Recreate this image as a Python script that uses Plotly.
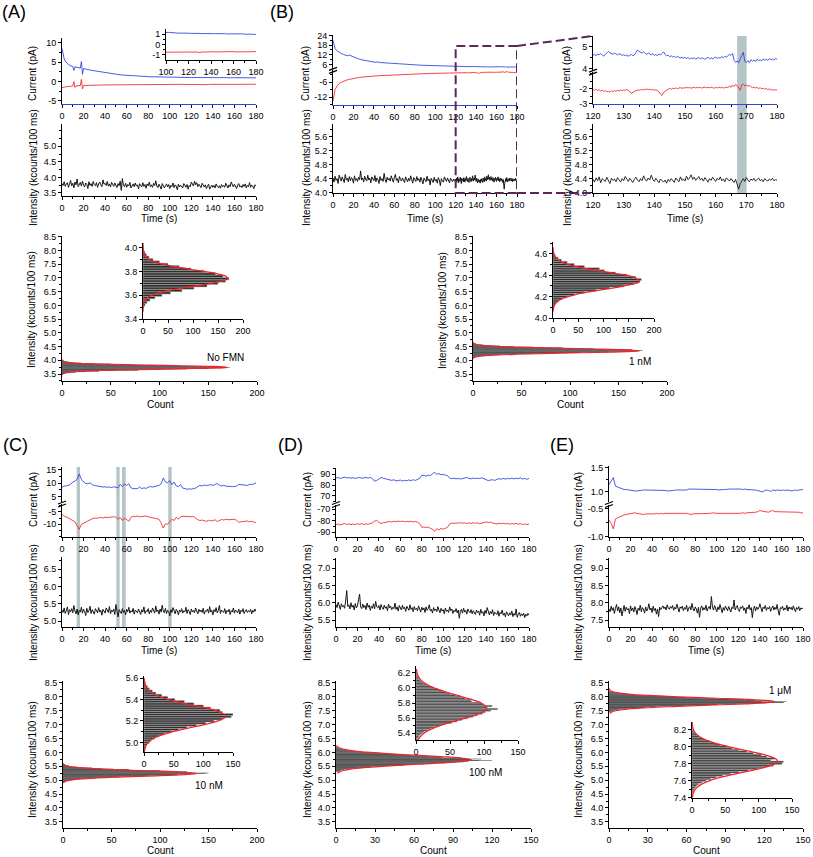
import plotly.graph_objects as go

W, H = 813, 857
FONT = "Liberation Sans, Arial, Helvetica, sans-serif"
BLUE = "#2b3fe0"
RED = "#f2242a"
INK = "#161616"
AXIS_BLUE = "#3347d0"
BAND = "#a8babd"
PURPLE = "#5e2557"
BIN_W = 0.02

# ---------------- data: time traces ----------------
A_T = list(range(40)) + list(range(40, 181, 2))
A_BLUE = [8.6, 6.9, 5.9, 5.3, 4.9, 4.6, 4.4, 4.25, 4.1, 4.0, 3.9, 2.9, 3.9, 3.75, 3.7, 3.6, 3.55, 3.5, 5.2, 1.9,
          3.4, 3.3, 3.25, 3.2, 3.1, 3.05, 3.0, 2.95, 2.9, 2.85, 2.8, 2.75, 2.7, 2.62, 2.58, 2.52, 2.48, 2.45, 2.4, 2.35,
          2.30, 2.20, 2.11, 2.03, 1.96, 1.89, 1.83, 1.77, 1.72, 1.67,
          1.62, 1.58, 1.54, 1.50, 1.46, 1.43, 1.40, 1.37, 1.34, 1.31,
          1.29, 1.27, 1.25, 1.23, 1.21, 1.19, 1.17, 1.16, 1.15, 1.14,
          1.14, 1.16, 1.12, 1.10, 1.11, 1.09, 1.10, 1.08, 1.09, 1.07,
          1.08, 1.06, 1.07, 1.05, 1.08, 1.06, 1.04, 1.05, 1.03, 1.06,
          1.07, 1.04, 1.03, 1.05, 1.02, 1.03, 1.04, 1.01, 1.02, 1.00,
          1.03, 1.01, 0.99, 1.00, 1.02, 0.98, 1.00, 0.97, 0.99, 0.96,
          0.98]
A_RED = [-1.55, -1.45, -1.40, -1.35, -1.30, -1.28, -1.25, -1.22, -1.20, -1.18, -1.15, 0.0, -1.5, -1.10, -1.08,
         -1.06, -1.05, -1.03, 0.6, -1.9,
         -1.00, -0.98, -0.97, -0.96, -0.95, -0.94, -0.93, -0.93, -0.92, -0.91,
         -0.90, -0.90, -0.89, -0.88, -0.88, -0.87, -0.87, -0.86, -0.86, -0.85,
         -0.85, -0.84, -0.84, -0.83, -0.83, -0.82, -0.82, -0.81, -0.81, -0.80,
         -0.80, -0.79, -0.79, -0.78, -0.78, -0.78, -0.77, -0.77, -0.77, -0.76,
         -0.76, -0.76, -0.75, -0.75, -0.75, -0.74, -0.74, -0.74, -0.73, -0.73,
         -0.73, -0.72, -0.74, -0.71, -0.73, -0.72, -0.70, -0.73, -0.71, -0.72,
         -0.70, -0.71, -0.73, -0.70, -0.72, -0.78, -0.71, -0.72, -0.70, -0.71,
         -0.72, -0.69, -0.71, -0.70, -0.72, -0.68, -0.70, -0.71, -0.69, -0.70,
         -0.68, -0.71, -0.69, -0.70, -0.67, -0.69, -0.70, -0.68, -0.69, -0.67,
         -0.68]

T1 = list(range(181))
T2 = list(range(0, 181, 2))

A_INT = [3.80, 3.74, 3.86, 3.71, 3.79, 3.83, 3.68, 3.77, 3.90, 3.73, 3.81, 3.66, 3.85, 3.76, 3.95, 3.70, 3.79, 3.84, 3.72, 3.88,
         3.75, 3.69, 3.82, 3.78, 3.64, 3.86, 3.74, 3.80, 3.71, 3.87, 3.77, 3.73, 3.83, 3.68, 3.79, 3.85, 3.76, 3.70, 3.92, 3.78,
         3.81, 3.74, 3.87, 3.72, 3.79, 3.69, 3.84, 3.76, 3.71, 3.82, 3.75, 3.67, 3.80, 3.73, 3.88, 3.58, 3.96, 3.74, 3.70, 3.81,
         3.68, 3.77, 3.73, 3.84, 3.66, 3.75, 3.79, 3.70, 3.82, 3.72, 3.76, 3.63, 3.80, 3.74, 3.69, 3.83, 3.71, 3.77, 3.65, 3.79,
         3.73, 3.85, 3.70, 3.76, 3.68, 3.81, 3.74, 3.89, 3.72, 3.67, 3.78, 3.71, 3.62, 3.80, 3.75, 3.66, 3.73, 3.79, 3.69, 3.77,
         3.64, 3.74, 3.70, 3.82, 3.67, 3.76, 3.72, 3.60, 3.78, 3.69, 3.75, 3.71, 3.66, 3.80, 3.73, 3.68, 3.77, 3.62, 3.74, 3.70,
         3.85, 3.79, 3.72, 3.88, 3.76, 3.83, 3.70, 3.78, 3.74, 3.67, 3.81, 3.73, 3.69, 3.76, 3.64, 3.72, 3.78, 3.62, 3.70, 3.75,
         3.68, 3.74, 3.66, 3.79, 3.71, 3.67, 3.73, 3.65, 3.77, 3.70, 3.74, 3.68, 3.81, 3.72, 3.66, 3.76, 3.70, 3.85, 3.73, 3.69,
         3.78, 3.71, 3.64, 3.75, 3.80, 3.69, 3.73, 3.67, 3.77, 3.71, 3.79, 3.66, 3.74, 3.70, 3.83, 3.68, 3.75, 3.72, 3.64, 3.76,
         3.73]

B_TL = list(range(0, 120, 2))
B_TZ = [120 + 0.5 * i for i in range(121)]
B_TIL = list(range(120))
B_BLUE_L = [21.0, 16.0, 14.5, 13.5, 12.8, 12.3, 11.8, 11.4, 11.8, 11.2,
            10.5, 10.0, 9.6, 9.2, 8.9, 8.6, 8.3, 8.1, 7.9, 7.7,
            7.5, 7.4, 7.6, 7.2, 7.1, 6.9, 6.8, 6.7, 6.6, 6.5,
            6.4, 6.3, 6.2, 6.1, 6.0, 5.95, 5.9, 5.85, 5.8, 5.75,
            5.7, 5.65, 5.6, 5.55, 5.5, 5.45, 5.4, 5.35, 5.3, 5.25,
            5.2, 5.15, 5.1, 5.05, 5.0, 4.95, 4.9, 4.85, 4.8, 4.72]
B_RED_L = [-13.5, -9.0, -7.5, -6.5, -6.0, -5.6, -5.3, -5.0, -4.8, -4.6,
           -4.4, -4.3, -4.2, -4.0, -3.9, -3.8, -3.7, -3.6, -3.55, -3.5,
           -3.45, -3.4, -3.35, -3.3, -3.25, -3.2, -3.15, -3.1, -3.05, -3.0,
           -2.95, -2.9, -2.88, -2.85, -2.8, -2.78, -2.75, -2.7, -2.68, -2.65,
           -2.6, -2.58, -2.55, -2.5, -2.48, -2.45, -2.42, -2.4, -2.38, -2.35,
           -2.32, -2.3, -2.28, -2.25, -2.22, -2.2, -2.18, -2.15, -2.12, -2.1]
B_BLUE_Z = [4.62, 4.66, 4.60, 4.68, 4.64, 4.70, 4.63, 4.58, 4.66, 4.72,
            4.80, 4.74, 4.70, 4.66, 4.72, 4.68, 4.64, 4.70, 4.67, 4.62,
            4.65, 4.60, 4.63, 4.58, 4.62, 4.66, 4.60, 4.64, 4.75, 4.86,
            4.80, 4.76, 4.72, 4.78, 4.70, 4.66, 4.72, 4.68, 4.64, 4.70,
            4.62, 4.66, 4.60, 4.68, 4.64, 4.70, 4.78, 4.66, 4.60, 4.63,
            4.56, 4.60, 4.54, 4.58, 4.52, 4.57, 4.55, 4.50, 4.54, 4.49,
            4.53, 4.48, 4.52, 4.46, 4.50, 4.47, 4.51, 4.45, 4.49, 4.52,
            4.46, 4.50, 4.48, 4.44, 4.49, 4.53, 4.47, 4.51, 4.46, 4.50,
            4.54, 4.48, 4.52, 4.49, 4.56, 4.51, 4.58, 4.54, 4.60, 4.66,
            4.62, 4.70, 4.40, 4.30, 4.36, 4.28, 4.45, 4.62, 4.76, 4.35,
            4.30, 4.38, 4.28, 4.42, 4.36, 4.40, 4.34, 4.44, 4.38, 4.42,
            4.36, 4.46, 4.40, 4.44, 4.39, 4.47, 4.42, 4.45, 4.40, 4.48,
            4.44]
B_RED_Z = [-2.05, -2.10, -2.02, -2.12, -2.06, -2.15, -2.08, -2.18, -2.11, -2.20,
           -2.16, -2.22, -2.14, -2.19, -2.12, -2.17, -2.10, -2.15, -2.08, -2.13,
           -2.06, -2.11, -2.04, -2.09, -2.18, -2.30, -2.22, -2.16, -2.12, -2.08,
           -2.10, -2.05, -2.09, -2.03, -2.07, -2.00, -2.06, -2.02, -2.08, -2.04,
           -2.10, -2.06, -2.14, -2.20, -2.35, -2.45, -2.25, -2.15, -2.08, -2.02,
           -1.98, -2.03, -1.96, -2.00, -1.94, -1.99, -1.95, -1.92, -1.97, -1.93,
           -1.95, -1.90, -1.94, -1.91, -1.96, -1.92, -1.89, -1.94, -1.90, -1.93,
           -1.91, -1.95, -1.92, -1.88, -1.93, -1.90, -1.94, -1.89, -1.92, -1.96,
           -1.91, -1.94, -1.89, -1.93, -1.90, -1.95, -1.91, -1.88, -1.93, -1.80,
           -1.90, -1.75, -1.85, -1.70, -1.78, -1.95, -2.10, -1.72, -1.68, -1.80,
           -1.75, -1.82, -1.78, -1.86, -1.92, -1.88, -1.95, -1.90, -1.98, -1.93,
           -2.00, -1.96, -2.03, -1.98, -2.05, -2.01, -2.08, -2.04, -2.10, -2.06,
           -2.08]
B_INT_L = [4.42, 4.30, 4.47, 4.35, 4.40, 4.26, 4.50, 4.37, 4.33, 4.45,
           4.38, 4.29, 4.52, 4.36, 4.41, 4.31, 4.46, 4.34, 4.43, 4.39,
           4.27, 4.48, 4.35, 4.40, 4.32, 4.44, 4.37, 4.62, 4.36, 4.42,
           4.30, 4.47, 4.38, 4.33, 4.50, 4.36, 4.41, 4.28, 4.45, 4.39,
           4.34, 4.49, 4.31, 4.42, 4.37, 4.26, 4.46, 4.35, 4.40, 4.32,
           4.55, 4.38, 4.29, 4.44, 4.36, 4.41, 4.33, 4.48, 4.37, 4.30,
           4.43, 4.52, 4.35, 4.40, 4.28, 4.46, 4.38, 4.33, 4.42, 4.36,
           4.29, 4.45, 4.37, 4.31, 4.41, 4.34, 4.48, 4.36, 4.27, 4.43,
           4.39, 4.32, 4.46, 4.35, 4.40, 4.30, 4.44, 4.37, 4.25, 4.42,
           4.36, 4.31, 4.47, 4.34, 4.39, 4.22, 4.41, 4.35, 4.29, 4.44,
           4.33, 4.38, 4.27, 4.43, 4.36, 4.20, 4.40, 4.34, 4.30, 4.45,
           4.37, 4.32, 4.42, 4.35, 4.28, 4.41, 4.36, 4.31, 4.39, 4.34]
B_INT_Z = [4.38, 4.30, 4.42, 4.34, 4.45, 4.28, 4.40, 4.36, 4.32, 4.44,
           4.37, 4.26, 4.41, 4.35, 4.39, 4.31, 4.43, 4.36, 4.30, 4.40,
           4.34, 4.46, 4.37, 4.32, 4.41, 4.35, 4.29, 4.38, 4.44, 4.36,
           4.31, 4.40, 4.34, 4.48, 4.37, 4.33, 4.42, 4.36, 4.50, 4.38,
           4.32, 4.41, 4.35, 4.28, 4.39, 4.33, 4.30, 4.36, 4.27, 4.38,
           4.32, 4.40, 4.34, 4.29, 4.42, 4.36, 4.31, 4.45, 4.35, 4.39,
           4.33, 4.47, 4.37, 4.42, 4.51, 4.38, 4.44, 4.35, 4.40, 4.46,
           4.36, 4.41, 4.33, 4.43, 4.37, 4.30, 4.40, 4.35, 4.44, 4.38,
           4.32, 4.41, 4.36, 4.45, 4.34, 4.39, 4.31, 4.42, 4.37, 4.33,
           4.40, 4.35, 4.29, 4.38, 4.22, 4.10, 4.26, 4.34, 4.40, 4.32,
           4.43, 4.36, 4.31, 4.39, 4.35, 4.41, 4.33, 4.37, 4.42, 4.34,
           4.38, 4.31, 4.40, 4.36, 4.33, 4.39, 4.35, 4.41, 4.34, 4.37,
           4.36]
B_BAND = (167.0, 170.1)

C_BLUE = [8.5, 9.0, 9.0, 9.2, 9.6, 10.5, 10.8, 11.5, 13.5, 11.5,
          10.5, 10.0, 9.8, 10.2, 9.5, 9.2, 9.0, 8.8, 8.7, 8.6,
          8.7, 8.5, 8.6, 8.4, 8.7, 8.5, 8.3, 9.6, 8.8, 9.8,
          9.2, 9.8, 8.3, 8.0, 7.9, 8.0, 8.6, 8.0, 8.3, 8.1,
          8.5, 8.8, 8.6, 8.9, 9.0, 9.2, 9.8, 12.0, 10.5, 10.2,
          11.0, 9.5, 10.5, 9.0, 8.8, 9.5, 8.2, 8.0, 7.8, 7.9,
          7.8, 8.0, 8.2, 8.8, 9.2, 9.0, 9.4, 9.1, 9.3, 9.5,
          9.2, 9.6, 9.9, 9.3, 9.0, 9.2, 8.9, 8.8, 8.9, 8.7,
          8.8, 8.9, 9.6, 9.5, 9.3, 9.4, 9.2, 9.6, 9.5, 9.8,
          10.2]
C_RED = [-6.0, -6.8, -7.0, -7.5, -8.0, -8.5, -9.0, -10.5, -12.0, -10.0,
         -9.5, -9.0, -8.5, -8.0, -7.8, -7.5, -7.6, -7.4, -7.3, -7.5,
         -7.2, -7.3, -7.1, -7.2, -7.0, -7.2, -8.0, -7.3, -8.5, -7.5,
         -8.2, -8.8, -7.2, -6.8, -7.0, -6.7, -7.0, -6.8, -6.9, -6.7,
         -7.0, -7.2, -7.5, -7.8, -7.9, -8.0, -9.5, -11.5, -9.8, -10.0,
         -9.0, -8.0, -8.5, -7.2, -8.0, -7.0, -6.8, -6.9, -6.7, -6.8,
         -7.0, -6.9, -7.6, -8.2, -8.5, -8.3, -8.6, -8.8, -8.4, -8.7,
         -8.5, -8.2, -8.9, -8.4, -8.1, -8.3, -8.0, -8.2, -8.1, -8.3,
         -8.0, -8.4, -9.2, -9.0, -8.8, -8.9, -8.7, -9.0, -8.8, -9.1,
         -9.3]
C_INT = [5.32, 5.25, 5.38, 5.22, 5.30, 5.41, 5.19, 5.33, 5.27, 5.36,
         5.24, 5.45, 5.29, 5.21, 5.35, 5.18, 5.31, 5.26, 5.40, 5.23,
         5.34, 5.28, 5.16, 5.37, 5.25, 5.30, 5.43, 5.22, 5.33, 5.27,
         5.20, 5.36, 5.29, 5.24, 5.39, 5.26, 5.31, 5.17, 5.34, 5.28,
         5.23, 5.38, 5.30, 5.25, 5.42, 5.21, 5.32, 5.27, 5.35, 5.19,
         5.48, 5.26, 5.12, 5.33, 5.28, 5.22, 5.36, 5.25, 5.31, 5.18,
         5.34, 5.27, 5.40, 5.23, 5.30, 5.26, 5.37, 5.20, 5.32, 5.28,
         5.24, 5.35, 5.29, 5.19, 5.33, 5.26, 5.41, 5.22, 5.30, 5.27,
         5.36, 5.21, 5.31, 5.25, 5.38, 5.28, 5.23, 5.44, 5.27, 5.32,
         5.20, 5.35, 5.26, 5.46, 5.29, 5.24, 5.37, 5.22, 5.31, 5.28,
         5.15, 5.33, 5.25, 5.39, 5.27, 5.21, 5.34, 5.29, 5.18, 5.32,
         5.26, 5.36, 5.23, 5.30, 5.27, 5.40, 5.22, 5.33, 5.28, 5.19,
         5.35, 5.26, 5.31, 5.24, 5.38, 5.29, 5.21, 5.34, 5.27, 5.32,
         5.25, 5.37, 5.20, 5.30, 5.28, 5.35, 5.23, 5.42, 5.26, 5.31,
         5.18, 5.33, 5.27, 5.39, 5.24, 5.30, 5.45, 5.22, 5.32, 5.28,
         5.25, 5.36, 5.21, 5.31, 5.27, 5.34, 5.19, 5.30, 5.26, 5.38,
         5.23, 5.32, 5.28, 5.24, 5.35, 5.20, 5.31, 5.27, 5.36, 5.22,
         5.29, 5.33, 5.25, 5.30, 5.27, 5.34, 5.21, 5.31, 5.26, 5.35,
         5.28]
C_BANDS = [(13.6, 16.7), (50.4, 53.5), (55.7, 59.1), (98.6, 101.8)]

D_BLUE = [86.5, 86.8, 86.0, 86.5, 87.2, 86.4, 86.8, 86.2, 86.6, 86.0,
          86.5, 87.0, 86.2, 86.6, 86.8, 86.3, 86.9, 85.8, 83.5, 84.2,
          85.5, 86.8, 86.2, 85.8, 85.4, 84.6, 84.2, 84.8, 83.8, 84.0,
          84.5, 83.6, 84.2, 83.9, 84.6, 84.0, 84.8, 84.2, 85.0, 86.0,
          89.0, 88.5, 88.2, 89.0, 88.6, 90.2, 91.5, 89.8, 90.4, 89.2,
          89.8, 89.0, 88.4, 86.5, 85.8, 86.2, 85.6, 86.0, 85.4, 85.9,
          86.3, 86.8, 86.0, 85.6, 86.4, 85.8, 86.2, 85.9, 86.6, 85.5,
          84.6, 84.0, 84.5, 84.8, 84.2, 85.2, 85.8, 85.3, 85.9, 85.4,
          86.0, 85.6, 86.3, 85.5, 86.1, 85.8, 86.5, 85.4, 86.0, 85.2,
          86.0]
D_RED = [-83.5, -83.0, -83.8, -83.2, -82.6, -83.4, -82.8, -83.6, -83.0, -83.5,
         -82.8, -83.3, -82.7, -83.4, -82.9, -83.2, -82.6, -82.0, -80.5, -79.8,
         -81.5, -82.6, -82.0, -81.8, -81.2, -80.8, -81.3, -80.6, -81.0, -80.4,
         -80.9, -80.5, -81.2, -80.7, -81.1, -80.6, -81.3, -80.8, -81.5, -82.5,
         -86.0, -85.5, -86.2, -85.6, -86.8, -87.5, -89.5, -87.0, -88.2, -86.8,
         -87.6, -86.5, -85.8, -83.0, -82.2, -82.6, -82.0, -82.4, -81.8, -82.3,
         -82.0, -82.6, -82.1, -82.5, -81.9, -82.4, -82.0, -82.7, -82.2, -81.6,
         -81.2, -81.8, -81.4, -82.2, -82.6, -83.0, -82.4, -82.8, -82.3, -82.9,
         -82.5, -83.1, -82.6, -83.0, -82.4, -83.2, -82.7, -83.5, -82.9, -83.6,
         -83.1]
D_INT = [5.95, 5.86, 6.02, 5.90, 5.81, 5.97, 5.88, 5.92, 5.84, 6.05,
         6.35, 5.89, 5.94, 5.82, 6.00, 5.87, 5.93, 5.79, 5.98, 5.85,
         5.91, 6.08, 6.25, 5.88, 5.83, 5.96, 5.86, 5.92, 5.80, 5.99,
         5.87, 5.93, 5.78, 5.90, 5.84, 5.97, 5.82, 6.04, 5.88, 5.85,
         5.92, 5.79, 5.95, 5.86, 5.81, 5.93, 5.84, 5.89, 5.77, 5.96,
         5.85, 5.90, 5.80, 5.87, 5.83, 5.99, 5.81, 5.88, 5.76, 5.92,
         5.84, 5.79, 5.93, 5.82, 5.87, 5.75, 5.90, 5.83, 5.78, 5.94,
         5.81, 5.86, 5.74, 5.89, 5.80, 5.84, 5.77, 5.91, 5.82, 5.73,
         5.87, 5.79, 5.85, 5.72, 5.88, 5.78, 5.83, 5.94, 5.76, 5.81,
         5.70, 5.86, 5.77, 5.82, 5.74, 5.89, 5.79, 5.71, 5.84, 5.76,
         5.80, 5.68, 5.85, 5.75, 5.79, 5.72, 5.88, 5.77, 5.82, 5.69,
         5.78, 5.74, 5.83, 5.71, 5.79, 5.55, 5.76, 5.81, 5.70, 5.84,
         5.73, 5.78, 5.67, 5.82, 5.75, 5.71, 5.80, 5.68, 5.77, 5.73,
         5.66, 5.79, 5.72, 5.76, 5.64, 5.81, 5.70, 5.74, 5.62, 5.78,
         5.69, 5.86, 5.71, 5.65, 5.75, 5.68, 5.80, 5.63, 5.73, 5.70,
         5.66, 5.77, 5.61, 5.72, 5.68, 5.79, 5.64, 5.70, 5.59, 5.74,
         5.67, 5.62, 5.71, 5.65, 5.76, 5.60, 5.69, 5.64, 5.82, 5.58,
         5.66, 5.72, 5.61, 5.68, 5.63, 5.70, 5.57, 5.67, 5.62, 5.69,
         5.64]

E_BLUE = [1.15, 1.22, 1.30, 1.12, 1.10, 1.09, 1.06, 1.05, 1.05, 1.04,
          1.03, 1.02, 1.02, 1.02, 1.03, 1.04, 1.04, 1.04, 1.04, 1.04,
          1.04, 1.04, 1.04, 1.03, 1.04, 1.03, 1.03, 1.02, 1.02, 1.03,
          1.03, 1.04, 1.04, 1.04, 1.04, 1.05, 1.04, 1.06, 1.06, 1.06,
          1.05, 1.05, 1.05, 1.06, 1.05, 1.06, 1.05, 1.06, 1.05, 1.05,
          1.05, 1.04, 1.05, 1.05, 1.05, 1.06, 1.06, 1.06, 1.06, 1.07,
          1.06, 1.06, 1.05, 1.06, 1.05, 1.05, 1.05, 1.04, 1.04, 1.03,
          1.01, 1.00, 1.02, 1.04, 1.03, 1.01, 1.04, 1.03, 1.04, 1.03,
          1.03, 1.04, 1.03, 1.04, 1.03, 1.02, 1.04, 1.03, 1.04, 1.04,
          1.05]
E_RED = [-0.70, -0.76, -0.86, -0.68, -0.66, -0.64, -0.62, -0.61, -0.60, -0.59,
         -0.58, -0.58, -0.57, -0.58, -0.59, -0.59, -0.60, -0.59, -0.59, -0.60,
         -0.59, -0.59, -0.58, -0.59, -0.58, -0.59, -0.58, -0.58, -0.58, -0.57,
         -0.58, -0.58, -0.57, -0.58, -0.58, -0.57, -0.58, -0.59, -0.60, -0.59,
         -0.59, -0.59, -0.58, -0.59, -0.58, -0.58, -0.58, -0.58, -0.57, -0.58,
         -0.58, -0.58, -0.58, -0.58, -0.59, -0.58, -0.59, -0.59, -0.59, -0.58,
         -0.58, -0.58, -0.57, -0.58, -0.57, -0.57, -0.57, -0.56, -0.56, -0.55,
         -0.53, -0.54, -0.55, -0.55, -0.56, -0.54, -0.53, -0.55, -0.55, -0.56,
         -0.56, -0.55, -0.56, -0.56, -0.56, -0.55, -0.56, -0.56, -0.56, -0.57,
         -0.57]
E_INT = [7.82, 7.74, 7.90, 7.78, 7.86, 7.69, 7.84, 7.95, 7.76, 7.88,
         7.71, 7.85, 7.62, 7.80, 7.92, 7.75, 7.87, 7.79, 7.83, 7.68,
         7.91, 7.77, 7.85, 7.73, 7.89, 7.80, 7.66, 7.84, 7.78, 7.93,
         7.74, 7.86, 7.81, 7.70, 7.88, 7.76, 7.83, 7.97, 7.79, 7.85,
         7.72, 7.90, 7.77, 7.84, 7.67, 7.82, 7.60, 7.87, 7.80, 7.86,
         7.91, 7.83, 7.88, 7.79, 7.94, 7.85, 7.81, 7.89, 7.84, 7.92,
         7.78, 7.87, 7.82, 7.96, 7.80, 7.73, 7.88, 7.84, 7.90, 7.77,
         7.86, 7.81, 7.93, 7.75, 7.85, 7.89, 7.79, 7.98, 7.83, 7.76,
         7.88, 7.82, 7.70, 7.87, 7.58, 7.84, 7.91, 7.78, 7.86, 7.80,
         7.93, 7.76, 7.85, 7.89, 7.81, 8.18, 7.87, 7.79, 7.92, 7.83,
         7.74, 7.88, 7.80, 7.95, 7.82, 7.71, 7.86, 7.78, 7.90, 7.84,
         7.77, 7.89, 7.81, 7.73, 7.87, 7.83, 8.08, 7.79, 7.86, 7.92,
         7.80, 7.75, 7.88, 7.84, 7.91, 7.78, 7.85, 7.69, 7.87, 7.82,
         7.94, 7.79, 7.86, 7.57, 7.83, 7.90, 7.76, 7.88, 7.81, 7.85,
         7.97, 7.80, 7.74, 7.87, 7.83, 7.92, 7.78, 7.86, 7.82, 7.89,
         7.75, 7.84, 7.91, 7.79, 7.87, 7.81, 7.95, 7.77, 7.64, 7.86,
         7.83, 7.90, 7.78, 7.85, 7.80, 7.93, 7.76, 7.88, 7.82, 7.87,
         7.79, 7.91, 7.84, 7.74, 7.86, 7.81, 7.89, 7.77, 7.85, 7.82,
         7.86]

# ---------------- data: histograms ----------------
A_BINS = [3.50, 3.52, 3.54, 3.56, 3.58, 3.60, 3.62, 3.64, 3.66, 3.68, 3.70, 3.72, 3.74,
          3.76, 3.78, 3.80, 3.82, 3.84, 3.86, 3.88, 3.90, 3.92, 3.94, 3.96, 3.98, 4.00]
A_COUNTS = [2, 4, 8, 14, 24, 38, 55, 78, 102, 128, 150, 165, 172,
            160, 145, 122, 96, 72, 50, 33, 20, 12, 7, 4, 2, 1]
A_FIT_LV = [3.46, 3.48, 3.50, 3.52, 3.54, 3.56, 3.58, 3.60, 3.62, 3.64, 3.66, 3.68, 3.70, 3.72, 3.74,
            3.76, 3.78, 3.80, 3.82, 3.84, 3.86, 3.88, 3.90, 3.92, 3.94, 3.96, 3.98, 4.00, 4.02, 4.04]
A_FIT_CT = [0.03, 0.09, 0.26, 0.7, 1.8, 4.2, 9.0, 17.6, 31.4, 51.5, 77.9, 107.6, 136.5, 158.9, 169.5,
            165.9, 148.9, 122.6, 92.5, 64.0, 40.6, 23.7, 12.6, 6.2, 2.8, 1.1, 0.4, 0.15, 0.05, 0.01]

B_BINS = [4.10, 4.12, 4.14, 4.16, 4.18, 4.20, 4.22, 4.24, 4.26, 4.28, 4.30, 4.32, 4.34, 4.36,
          4.38, 4.40, 4.42, 4.44, 4.46, 4.48, 4.50, 4.52, 4.54, 4.56, 4.58, 4.60, 4.62]
B_COUNTS = [1, 3, 6, 11, 18, 28, 42, 62, 86, 112, 140, 160, 172, 175,
            164, 146, 124, 102, 92, 62, 42, 28, 17, 10, 5, 3, 1]
B_FIT_LV = [4.06, 4.10, 4.14, 4.18, 4.22, 4.26, 4.30, 4.34, 4.38, 4.42, 4.46, 4.50, 4.54, 4.58, 4.62, 4.66]
B_FIT_CT = [0.24, 1.3, 5.5, 17.9, 45.9, 91.3, 141.5, 170.7, 160.3, 117.3, 66.9, 29.6, 10.3, 2.8, 0.6, 0.1]

C_BINS = [4.94, 4.96, 4.98, 5.00, 5.02, 5.04, 5.06, 5.08, 5.10, 5.12, 5.14, 5.16, 5.18, 5.20, 5.22, 5.24, 5.26,
          5.28, 5.30, 5.32, 5.34, 5.36, 5.38, 5.40, 5.42, 5.44, 5.46, 5.48, 5.50, 5.52, 5.54, 5.56, 5.58]
C_COUNTS = [2, 3, 5, 9, 12, 18, 25, 34, 46, 58, 72, 88, 104, 118, 132, 147, 150,
            132, 128, 112, 100, 84, 68, 52, 40, 30, 20, 14, 9, 6, 3, 2, 1]
C_FIT_LV = [4.90, 4.95, 5.00, 5.05, 5.10, 5.15, 5.20, 5.245, 5.30, 5.35, 5.40, 5.45, 5.50, 5.55, 5.60]
C_FIT_CT = [0.36, 1.8, 6.9, 20.6, 48.2, 87.9, 124.9, 138.0, 118.7, 79.5, 41.5, 16.9, 5.4, 1.3, 0.25]

D_BINS = [5.32, 5.34, 5.36, 5.38, 5.40, 5.42, 5.44, 5.46, 5.48, 5.50,
          5.52, 5.54, 5.56, 5.58, 5.60, 5.62, 5.64, 5.66, 5.68, 5.70,
          5.72, 5.74, 5.76, 5.78, 5.80, 5.82, 5.84, 5.86, 5.88, 5.90,
          5.92, 5.94, 5.96, 5.98, 6.00, 6.02, 6.04, 6.06, 6.08, 6.10,
          6.12, 6.14, 6.16, 6.18, 6.20]
D_COUNTS = [2, 3, 4, 6, 9, 12, 16, 21, 27, 34,
            42, 52, 60, 68, 76, 84, 90, 98, 102, 110,
            120, 104, 112, 98, 96, 82, 80, 72, 66, 58,
            50, 44, 38, 32, 26, 20, 15, 11, 8, 6,
            4, 3, 2, 1, 1]
D_FIT_LV = [5.25, 5.30, 5.35, 5.40, 5.45, 5.50, 5.55, 5.60, 5.65, 5.70, 5.735,
            5.80, 5.85, 5.90, 5.95, 6.00, 6.05, 6.10, 6.15, 6.20, 6.25]
D_FIT_CT = [1.05, 2.6, 5.8, 11.6, 21.3, 35.4, 53.3, 72.8, 90.3, 101.5, 104.0,
            95.8, 80.3, 61.1, 42.2, 26.4, 14.9, 7.7, 3.6, 1.5, 0.6]

E_BINS = [7.46, 7.48, 7.50, 7.52, 7.54, 7.56, 7.58, 7.60, 7.62, 7.64,
          7.66, 7.68, 7.70, 7.72, 7.74, 7.76, 7.78, 7.80, 7.82, 7.84,
          7.86, 7.88, 7.90, 7.92, 7.94, 7.96, 7.98, 8.00, 8.02, 8.04,
          8.06, 8.08, 8.10, 8.12, 8.14, 8.16, 8.18, 8.20]
E_COUNTS = [1, 2, 3, 5, 7, 10, 15, 21, 28, 36,
            46, 58, 70, 84, 98, 110, 122, 135, 137, 118,
            124, 112, 104, 92, 82, 70, 60, 52, 42, 34,
            26, 20, 15, 10, 7, 4, 2, 1]
E_FIT_LV = [7.40, 7.45, 7.50, 7.55, 7.60, 7.65, 7.70, 7.75, 7.80, 7.83,
            7.85, 7.90, 7.95, 8.00, 8.05, 8.10, 8.15, 8.20, 8.25, 8.30]
E_FIT_CT = [0.54, 1.8, 5.1, 12.6, 26.8, 49.1, 77.7, 105.9, 124.6, 128.0,
            126.5, 110.7, 83.6, 54.4, 30.6, 14.8, 6.2, 2.2, 0.7, 0.2]

# ---------------- tick labels ----------------
T180 = [0, 20, 40, 60, 80, 100, 120, 140, 160, 180]
T120_180 = [120, 130, 140, 150, 160, 170, 180]
T100_180 = [100, 120, 140, 160, 180]
C200 = [0, 50, 100, 150, 200]
C150 = [0, 50, 100, 150]
C150_30 = [0, 30, 60, 90, 120, 150]
HIST_Y = [3.5, 4.0, 4.5, 5.0, 5.5, 6.0, 6.5, 7.0, 7.5, 8.0, 8.5]

# ---------------- builders ----------------
layout = dict(width=W, height=H, margin=dict(l=0, r=0, t=0, b=0, autoexpand=False), paper_bgcolor="white",
              plot_bgcolor="rgba(0,0,0,0)", showlegend=False, hovermode=False,
              font=dict(family=FONT, size=9, color="black"))
traces, shapes, annos = [], [], []
cnt = {"x": 0, "y": 0}


def X(px):
    return px / W


def Y(py):
    return 1 - py / H


def axis(rng, ticks, nd, minor, color="black"):
    d = dict(range=rng, tickmode="array", tickvals=ticks, ticktext=[f"{t:.{nd}f}" for t in ticks],
             showline=True, linecolor=color, linewidth=1, ticks="outside", ticklen=3, tickwidth=1,
             tickcolor="black", showgrid=False, zeroline=False, fixedrange=True, automargin=False,
             tickfont=dict(family=FONT, size=9, color="black"))
    if minor:
        d["minor"] = dict(ticks="outside", ticklen=1.8, tickwidth=1, tickcolor="black",
                          tickmode="linear", tick0=minor[0], dtick=minor[1], showgrid=False)
    return d


def new_x(dom, rng, ticks, nd, minor, color="black"):
    cnt["x"] += 1
    i = cnt["x"]
    key = "xaxis" if i == 1 else f"xaxis{i}"
    ref = "x" if i == 1 else f"x{i}"
    d = axis(rng, ticks, nd, minor, color)
    d["domain"] = [X(dom[0]), X(dom[1])]
    layout[key] = d
    return key, ref


def new_y(dom, rng, ticks, nd, minor, xref):
    cnt["y"] += 1
    i = cnt["y"]
    key = "yaxis" if i == 1 else f"yaxis{i}"
    ref = "y" if i == 1 else f"y{i}"
    d = axis(rng, ticks, nd, minor)
    d["domain"] = [Y(dom[1]), Y(dom[0])]
    d["anchor"] = xref
    layout[key] = d
    return key, ref


def panel(xdom, ydom, xr, yr, xt, yt, xnd, ynd, xmin, ymin, xcolor="black"):
    xk, xref = new_x(xdom, xr, xt, xnd, xmin, xcolor)
    yk, yref = new_y(ydom, yr, yt, ynd, ymin, xref)
    layout[xk]["anchor"] = yref
    return xref, yref


def line(x, y, xref, yref, color, w=0.85):
    traces.append(go.Scatter(x=x, y=y, xaxis=xref, yaxis=yref, mode="lines",
                             line=dict(color=color, width=w), hoverinfo="skip"))


def hist(levels, counts, fl, fc, xref, yref, inset):
    traces.append(go.Bar(y=levels, x=counts, orientation="h", width=BIN_W, xaxis=xref, yaxis=yref,
                         marker=dict(color="#2c2c2c",
                                     line=dict(color="#b8b8b8" if inset else "#2c2c2c",
                                               width=0.5 if inset else 0)),
                         hoverinfo="skip"))
    traces.append(go.Scatter(x=fc, y=fl, xaxis=xref, yaxis=yref, mode="lines",
                             line=dict(color=RED, width=1.3 if inset else 1.2, shape="spline"),
                             hoverinfo="skip"))


def text(s, x, y, size=10, angle=0):
    annos.append(dict(text=s, x=X(x), y=Y(y), xref="paper", yref="paper", showarrow=False,
                      textangle=angle, font=dict(family=FONT, size=size, color="black"),
                      xanchor="center", yanchor="middle"))


def brk(xpx, ypx):
    for dy in (0.0, 3.0):
        shapes.append(dict(type="line", xref="paper", yref="paper",
                           x0=X(xpx - 4), y0=Y(ypx + 1 + dy), x1=X(xpx + 4), y1=Y(ypx - 2 + dy),
                           line=dict(color="black", width=1.3)))


def band(xref, x0, x1, ytop, ybot):
    shapes.append(dict(type="rect", xref=xref, yref="paper", x0=x0, x1=x1, y0=Y(ybot), y1=Y(ytop),
                       fillcolor=BAND, opacity=0.85, line=dict(width=0), layer="below"))


# ---------------- Panel A ----------------
xa, ya = panel((62, 256), (38, 104), [0, 180], [-5.78, 11.29], T180, [-5, 0, 5, 10], 0, 0,
               (0, 10), (-5, 2.5), AXIS_BLUE)
line(A_T, A_BLUE, xa, ya, BLUE)
line(A_T, A_RED, xa, ya, RED)
xi, yi = panel((166, 256), (29, 60), [100, 180], [-1.48, 1.48], T100_180, [-1, 0, 1], 0, 0,
               (100, 10), (-1, 0.5))
line(A_T, A_BLUE, xi, yi, BLUE)
line(A_T, A_RED, xi, yi, RED)
xa2, ya2 = panel((62, 256), (124, 196), [0, 180], [3.40, 5.72], T180, [3.5, 4.0, 4.5, 5.0], 0, 1,
                 (0, 10), (3.5, 0.25))
line(T1, A_INT, xa2, ya2, INK, 1.0)
xh, yh = panel((62, 257), (236, 381), [0, 200], [3.245, 8.53], C200, HIST_Y, 0, 1, (0, 25), (3.5, 0.25))
hist(A_BINS, A_COUNTS, A_FIT_LV, A_FIT_CT, xh, yh, False)
xh, yh = panel((143, 243), (243, 319), [0, 200], [3.4, 4.04], C200, [3.4, 3.6, 3.8, 4.0], 0, 1,
               (0, 25), (3.4, 0.1))
hist(A_BINS, A_COUNTS, A_FIT_LV, A_FIT_CT, xh, yh, True)

# ---------------- Panel B ----------------
xbl, ybl_lo = panel((333, 517), (70, 105), [0, 180], [-15.2, -1.0], T180, [-12, -6], 0, 0,
                    (0, 10), (-15, 3), AXIS_BLUE)
_, ybl_up = new_y((35, 68.5), [3.5, 24.3], [6, 12, 18, 24], 0, (3, 3), xbl)
line(B_TL + B_TZ, B_BLUE_L + B_BLUE_Z, xbl, ybl_up, BLUE)
line(B_TL + B_TZ, B_RED_L + B_RED_Z, xbl, ybl_lo, RED)
brk(333, 69.3)

xbr, ybr_lo = panel((593, 777), (72, 104), [120, 180], [-3.02, -0.87], T120_180, [-3, -2], 0, 0,
                    (120, 5), (-3, 0.5), AXIS_BLUE)
_, ybr_up = new_y((36, 70.5), [3.93, 5.5], [4, 5], 0, (4, 0.5), xbr)
line(B_TZ, B_BLUE_Z, xbr, ybr_up, BLUE)
line(B_TZ, B_RED_Z, xbr, ybr_lo, RED)
brk(593, 71.2)

xb2, yb2 = panel((333, 517), (124, 193), [0, 180], [3.99, 5.96], T180, [4.0, 4.4, 4.8, 5.2, 5.6], 0, 1,
                 (0, 10), (4.0, 0.2))
line(B_TIL + B_TZ, B_INT_L + B_INT_Z, xb2, yb2, INK, 1.0)
xb3, yb3 = panel((593, 777), (124, 193), [120, 180], [3.99, 5.96], T120_180, [4.0, 4.4, 4.8, 5.2, 5.6], 0, 1,
                 (120, 5), (4.0, 0.2))
line(B_TZ, B_INT_Z, xb3, yb3, INK, 0.9)
band(xbr, B_BAND[0], B_BAND[1], 36, 193)

xh, yh = panel((473, 667), (236, 381), [0, 200], [3.245, 8.53], C200, HIST_Y, 0, 1, (0, 25), (3.5, 0.25))
hist(B_BINS, B_COUNTS, B_FIT_LV, B_FIT_CT, xh, yh, False)
xh, yh = panel((553, 654), (242, 318), [0, 200], [4.0, 4.71], C200, [4.0, 4.2, 4.4, 4.6], 0, 1,
               (0, 25), (4.0, 0.1))
hist(B_BINS, B_COUNTS, B_FIT_LV, B_FIT_CT, xh, yh, True)

# dashed zoom box
dash = dict(color=PURPLE, width=2, dash="9px,4px")
shapes.append(dict(type="rect", xref=xbl, yref="paper", x0=120, x1=180, y0=Y(193), y1=Y(46), line=dash))
shapes.append(dict(type="line", xref="paper", yref="paper", x0=X(517), y0=Y(46), x1=X(593), y1=Y(36), line=dash))
shapes.append(dict(type="line", xref="paper", yref="paper", x0=X(517), y0=Y(193), x1=X(593), y1=Y(193), line=dash))

# ---------------- Panel C ----------------
xc, yc_lo = panel((62, 256), (504, 537), [0, 180], [-15.04, -1.94], T180, [-10, -5], 0, 0,
                  (0, 10), (-15, 2.5))
_, yc_up = new_y((467, 502), [3.0, 16.1], [5, 10, 15], 0, (2.5, 2.5), xc)
line(T2, C_BLUE, xc, yc_up, BLUE)
line(T2, C_RED, xc, yc_lo, RED)
brk(62, 503)
xc2, yc2 = panel((62, 256), (557, 627), [0, 180], [4.83, 6.85], T180, [5.0, 5.5, 6.0, 6.5], 0, 1,
                 (0, 10), (5.0, 0.25))
line(T1, C_INT, xc2, yc2, INK, 1.0)
for b0, b1 in C_BANDS:
    band(xc, b0, b1, 467, 627)
xh, yh = panel((63, 257), (681, 828), [0, 200], [3.28, 8.57], C200, HIST_Y, 0, 1, (0, 25), (3.5, 0.25))
hist(C_BINS, C_COUNTS, C_FIT_LV, C_FIT_CT, xh, yh, False)
xh, yh = panel((144, 233), (676, 752), [0, 150], [4.91, 5.62], C150, [5.0, 5.2, 5.4, 5.6], 0, 1,
               (0, 25), (5.0, 0.1))
hist(C_BINS, C_COUNTS, C_FIT_LV, C_FIT_CT, xh, yh, True)

# ---------------- Panel D ----------------
xd, yd_lo = panel((336, 529), (505, 537), [0, 180], [-94.3, -66.5], T180, [-90, -80, -70], 0, 0,
                  (0, 10), (-90, 5))
_, yd_up = new_y((468, 502), [64.5, 95.5], [70, 80, 90], 0, (65, 5), xd)
line(T2, D_BLUE, xd, yd_up, BLUE)
line(T2, D_RED, xd, yd_lo, RED)
brk(336, 503.5)
xd2, yd2 = panel((336, 529), (558, 627), [0, 180], [5.30, 7.29], T180, [5.5, 6.0, 6.5, 7.0], 0, 1,
                 (0, 10), (5.5, 0.25))
line(T1, D_INT, xd2, yd2, INK, 1.0)
xh, yh = panel((336, 531), (681, 828), [0, 150], [3.28, 8.57], C150_30, HIST_Y, 0, 1, (0, 15), (3.5, 0.25))
hist(D_BINS, D_COUNTS, D_FIT_LV, D_FIT_CT, xh, yh, False)
xh, yh = panel((416, 518), (666, 740), [0, 150], [5.31, 6.29], C150, [5.4, 5.6, 5.8, 6.0, 6.2], 0, 1,
               (0, 25), (5.4, 0.1))
hist(D_BINS, D_COUNTS, D_FIT_LV, D_FIT_CT, xh, yh, True)

# ---------------- Panel E ----------------
xe, ye_lo = panel((609, 803), (505, 537), [0, 180], [-1.005, -0.43], T180, [-1.0, -0.5], 0, 1,
                  (0, 10), (-1.0, 0.25))
_, ye_up = new_y((466, 502), [0.79, 1.54], [1.0, 1.5], 1, (0.75, 0.25), xe)
line(T2, E_BLUE, xe, ye_up, BLUE)
line(T2, E_RED, xe, ye_lo, RED)
brk(609, 503.5)
xe2, ye2 = panel((609, 803), (558, 627), [0, 180], [7.30, 9.29], T180, [7.5, 8.0, 8.5, 9.0], 0, 1,
                 (0, 10), (7.5, 0.25))
line(T1, E_INT, xe2, ye2, INK, 1.0)
xh, yh = panel((609, 803), (681, 828), [0, 150], [3.28, 8.57], C150_30, HIST_Y, 0, 1, (0, 15), (3.5, 0.25))
hist(E_BINS, E_COUNTS, E_FIT_LV, E_FIT_CT, xh, yh, False)
xh, yh = panel((692, 792), (722, 798), [0, 150], [7.395, 8.29], C150, [7.4, 7.6, 7.8, 8.0, 8.2], 0, 1,
               (0, 25), (7.4, 0.1))
hist(E_BINS, E_COUNTS, E_FIT_LV, E_FIT_CT, xh, yh, True)

# ---------------- texts ----------------
INT_T = "Intensity (kcounts/100 ms)"
for s, x, y in [("(A)", 14, 12), ("(B)", 282, 12), ("(C)", 15, 445), ("(D)", 290, 445), ("(E)", 562, 445)]:
    text(s, x, y, 18)
for s, x, y in [("Current (pA)", 33, 74), ("Current (pA)", 306, 74), ("Current (pA)", 567, 74),
                ("Current (pA)", 33, 500), ("Current (pA)", 307, 500), ("Current (nA)", 578, 500),
                (INT_T, 33, 168), (INT_T, 306, 168), (INT_T, 567, 168),
                (INT_T, 33, 603), (INT_T, 307, 603), (INT_T, 578, 603),
                (INT_T, 32, 310), (INT_T, 443, 310), (INT_T, 32, 760), (INT_T, 307, 760), (INT_T, 578, 760)]:
    text(s, x, y, 10, -90)
for s, x, y in [("Time (s)", 159, 218), ("Time (s)", 425, 218), ("Time (s)", 685, 218),
                ("Time (s)", 159, 650), ("Time (s)", 433, 650), ("Time (s)", 706, 650),
                ("Count", 160, 405), ("Count", 570, 405), ("Count", 160, 850), ("Count", 433, 850),
                ("Count", 706, 850),
                ("No FMN", 225, 357), ("1 nM", 640, 362), ("10 nM", 209, 785), ("100 nM", 485, 772),
                ("1 \u03bcM", 780, 690)]:
    text(s, x, y, 10)

layout["shapes"] = shapes
layout["annotations"] = annos
fig = go.Figure(data=traces, layout=layout)
fig.write_html("out.html", config={"displayModeBar": False, "staticPlot": True},
               post_script="document.body.style.margin='0px';document.body.style.overflow='hidden';")
